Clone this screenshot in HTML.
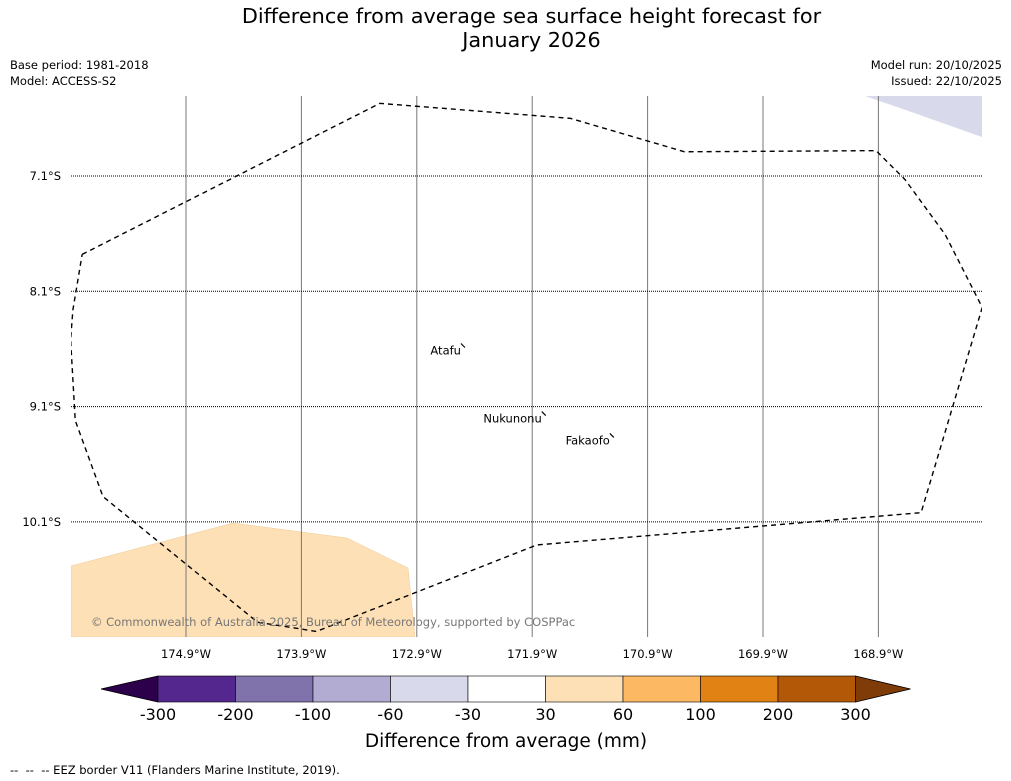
<!DOCTYPE html>
<html><head><meta charset="utf-8"><style>
body{margin:0;background:#fff;font-family:"DejaVu Sans","Liberation Sans",sans-serif;}
#wrap{position:relative;width:1011px;height:781px;overflow:hidden;background:#fff}
.t{position:absolute;white-space:nowrap;color:#000}
svg text{font-family:"DejaVu Sans","Liberation Sans",sans-serif;}
</style></head><body>
<div id="wrap">
<div class="t" style="left:0;width:1063px;top:5px;text-align:center;font-size:20.8px;line-height:23.5px">Difference from average sea surface height forecast for<br>January 2026</div>
<div class="t" style="left:10px;top:57px;font-size:11.5px;line-height:16px">Base period: 1981-2018<br>Model: ACCESS-S2</div>
<div class="t" style="right:9px;top:57px;font-size:11.5px;line-height:16px;text-align:right">Model run: 20/10/2025<br>Issued: 22/10/2025</div>
<svg id="svg" width="1011" height="781" style="position:absolute;left:0;top:0"></svg>
<div class="t" style="left:10px;top:763px;font-size:11.5px">--&nbsp; --&nbsp; -- EEZ border V11 (Flanders Marine Institute, 2019).</div>
</div>
<script>
const lonTicks=[-174.9,-173.9,-172.9,-171.9,-170.9,-169.9,-168.9];
const latTicks=[-7.1,-8.1,-9.1,-10.1];
const eezLon=[-175.80,-173.22,-171.57,-170.58,-168.92,-168.67,-168.32,-168.00,-168.53,-171.86,-173.77,-174.28,-175.62,-175.86,-175.90,-175.88,-175.80];
const eezLat=[-7.78,-6.47,-6.60,-6.89,-6.88,-7.13,-7.61,-8.24,-10.02,-10.30,-11.05,-10.97,-9.88,-9.22,-8.52,-8.26,-7.78];
const places=["Atafu","Nukunonu","Fakaofo"];
const placeLon=[-172.50,-171.80,-171.21];
const placeLat=[-8.57,-9.16,-9.35];
const cbBounds=[-300,-200,-100,-60,-30,30,60,100,200,300];
const cbColors=["#54278f","#8073ac","#b2abd2","#d8daeb","#ffffff","#fee0b6","#fdb863","#e08214","#b35806"];
const cbExt=["#2d004b","#7f3b08"];

const NS="http://www.w3.org/2000/svg";
const svg=document.getElementById('svg');
const X0=71,X1=982,Y0=96,Y1=637;
const xs=lon=>186+(lon+174.9)*115.4;
const ys=lat=>176+(-7.1-lat)*115.3;
function mk(tag,attrs,parent){const e=document.createElementNS(NS,tag);for(const k in attrs)e.setAttribute(k,attrs[k]);(parent||svg).appendChild(e);return e;}
const defs=mk('defs',{});const cp=mk('clipPath',{id:'clip'},defs);mk('rect',{x:X0,y:Y0,width:X1-X0,height:Y1-Y0},cp);
const g=mk('g',{'clip-path':'url(#clip)'});
let e=mk('polygon',{points:"71,566 233,523 347,538 408,568 415,637 71,637",fill:"#fee0b6",stroke:"#f0c890","stroke-width":"0.5"},g);

e=mk('polygon',{points:"865,96 982,96 982,137 900,108",fill:"#d8daeb"},g);

lonTicks.forEach(l=>{const x=xs(l);
 let ln=mk('line',{x1:x,x2:x,y1:Y0,y2:Y1,stroke:"#777","stroke-width":1},g);
 
 let t=mk('text',{x:x,y:658,'text-anchor':'middle','font-size':11.5});t.textContent=Math.abs(l).toFixed(1)+"°W";
 });
latTicks.forEach(l=>{const y=ys(l);
 let ln=mk('line',{x1:X0,x2:X1,y1:y,y2:y,stroke:"#000","stroke-width":1,'stroke-dasharray':'1,1'},g);
 
 let t=mk('text',{x:61,y:y+4,'text-anchor':'end','font-size':11.5});t.textContent=Math.abs(l).toFixed(1)+"°S";
 });
e=mk('polyline',{points:eezLon.map((l,i)=>xs(l)+","+ys(eezLat[i])).join(" "),fill:"none",stroke:"#000","stroke-width":1.4,'stroke-dasharray':'5,4'},g);

places.forEach((p,i)=>{const x=xs(placeLon[i]),y=ys(placeLat[i]);
 let m=mk('line',{x1:x-2,y1:y-2,x2:x+2,y2:y+2,stroke:"#000","stroke-width":1.2},g);
 
 let t=mk('text',{x:x-2,y:y+9,'text-anchor':'end','font-size':11.5});t.textContent=p;
 });
e=mk('text',{x:91,y:626,'font-size':11.5,fill:"#777"},g);e.textContent="© Commonwealth of Australia 2025, Bureau of Meteorology, supported by COSPPac";

const CB0=158,CBW=77.5,CBY=676,CBH=26,n=cbColors.length;
e=mk('polygon',{points:`${CB0},${CBY} 101,${CBY+CBH/2} ${CB0},${CBY+CBH}`,fill:cbExt[0],stroke:"#000","stroke-width":0.8});

const CBE=CB0+n*CBW;
e=mk('polygon',{points:`${CBE},${CBY} ${CBE+55},${CBY+CBH/2} ${CBE},${CBY+CBH}`,fill:cbExt[1],stroke:"#000","stroke-width":0.8});

cbColors.forEach((c,i)=>{let r=mk('rect',{x:CB0+i*CBW,y:CBY,width:CBW,height:CBH,fill:c,stroke:"#000","stroke-width":0.6});
 });
cbBounds.forEach((b,i)=>{let t=mk('text',{x:CB0+i*CBW,y:720,'text-anchor':'middle','font-size':16});t.textContent=b;
 });
e=mk('text',{x:506,y:747,'text-anchor':'middle','font-size':18.5});e.textContent="Difference from average (mm)";

</script>
</body></html>
